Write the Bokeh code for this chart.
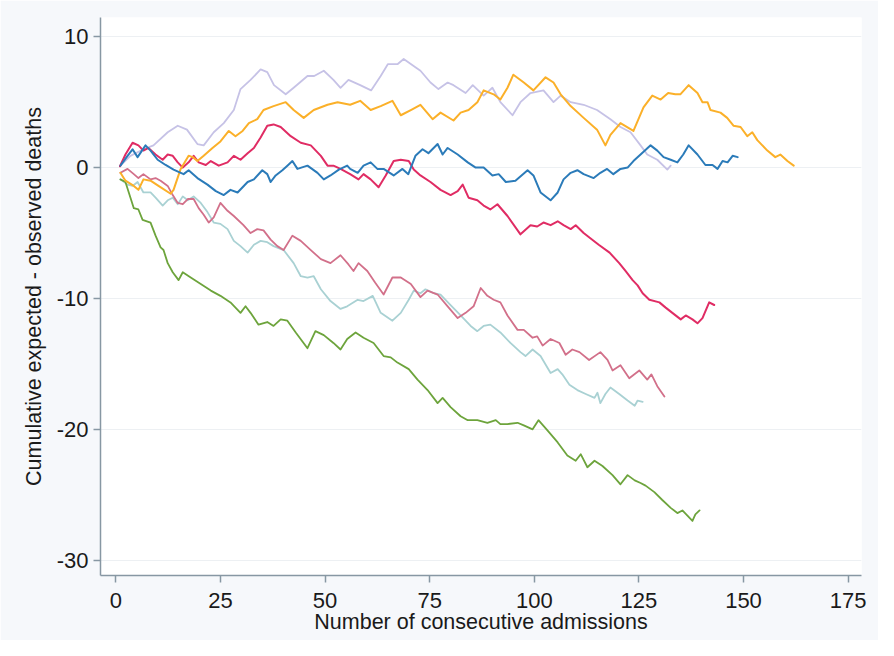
from bokeh.plotting import figure
from bokeh.models import Range1d, FixedTicker
from bokeh.embed import file_html
from bokeh.resources import INLINE

# Tick values
x_ticks = [0, 25, 50, 75, 100, 125, 150, 175]
y_ticks = [-30, -20, -10, 0, 10]

# Series: (consecutive admission, cumulative expected - observed deaths)
lavender = [(1.1,0.15),(3.5,0.9),(6.6,1.4),(9,1.7),(12.4,2.7),(14.8,3.2),(17,2.9),(19.5,1.8),(21,1.7),(23.4,2.7),
            (25.8,3.4),(28.2,4.4),(29.8,6.0),(32.2,6.7),(34.6,7.5),(36.2,7.3),(37.8,6.3),(40.6,5.6),(42.5,6.1),(45.8,7.0),
            (47.4,7.0),(49.7,7.4),(52,6.7),(53.7,6.1),(55.6,6.7),(58.4,6.3),(61,5.9),(63.3,7.0),(65,7.9),(67.3,7.9),
            (68.8,8.3),(71,7.8),(72.8,7.4),(75.2,6.5),(77.1,6.0),(79.3,6.5),(80.7,6.3),(83.6,5.7),(85.3,6.3),(87.9,5.5),
            (90,6.1),(91.9,5.0),(94.8,4.0),(96.7,5.0),(99.1,5.7),(102.2,5.9),(104.6,5.0),(106.3,5.5),(108.7,5.0),(111.8,4.8),
            (115,4.4),(118.2,3.7),(120.6,3.1),(123,2.7),(125.4,1.7),(127,1.0),(129.4,0.6),(131.8,-0.15),(132.6,0.15)]

orange = [(1.1,-0.4),(2.3,-1.0),(4.3,-1.4),(5.4,-1.7),(6.6,-0.9),(8.3,-1.0),(10.2,-1.4),(13.1,-2.0),(13.8,-1.7),(15.5,-0.1),
          (17.4,0.9),(18.4,0.8),(19.5,0.5),(21,0.9),(23.1,1.5),(25,2.0),(27,2.8),(28.6,2.4),(30.3,2.8),(31.8,3.4),
          (33.8,3.7),(35.3,4.4),(37.7,4.7),(40.6,5.0),(42.5,4.4),(44.9,3.8),(47.3,4.4),(50.6,4.8),(53,5.0),(56,4.8),
          (58.4,5.1),(60.9,4.4),(63.3,4.7),(66.1,5.1),(68.1,4.0),(70.5,4.4),(72.8,4.8),(75.7,3.7),(77.6,4.2),(80.7,3.6),
          (82.4,4.2),(84.3,4.4),(86.4,5.0),(87.9,5.9),(90.3,5.6),(91.9,5.2),(93.6,6.1),(95,7.1),(97.5,6.5),(99.8,5.9),
          (102.7,6.9),(104.6,6.5),(106.3,5.6),(108.7,4.7),(111.8,3.8),(115,2.9),(117,1.7),(118.2,2.5),(120.6,3.4),(123.7,2.8),
          (126.1,4.6),(128.2,5.5),(130.2,5.2),(132,5.7),(133.7,5.6),(134.9,5.6),(136.9,6.3),(139,5.7),(140.2,5.0),(141.4,5.0),
          (142.1,4.4),(144.5,4.2),(146.1,3.8),(147.6,3.2),(149.3,3.1),(150.9,2.4),(152.1,2.7),(153.3,2.1),(155.7,1.3),(157.6,0.8),
          (158.8,1.0),(160.5,0.5),(162,0.15)]

blue = [(1.1,0.15),(2.8,0.9),(4,1.4),(5.2,0.8),(7.1,1.7),(8.3,1.3),(10,0.6),(11.9,0.2),(13.8,-0.15),(16.2,-0.5),
        (17.4,-0.2),(19.5,-0.8),(21.9,-1.3),(23.9,-1.8),(25.8,-2.1),(27.4,-1.7),(29.1,-1.9),(31.5,-1.1),(33,-0.9),(35,-0.2),
        (36.2,-0.5),(37,-1.1),(38.2,-0.6),(39.8,-0.2),(41,0.15),(42.2,0.5),(43.4,-0.1),(45.8,0.15),(48.2,-0.4),(49.7,-0.9),
        (51.3,-0.6),(53.3,-0.15),(55.3,0.15),(56,-0.1),(57.8,-0.4),(59.2,0.15),(60.9,0.4),(62.5,-0.1),(64,-0.1),(66.4,-0.6),
        (68.5,-0.1),(69.9,-0.5),(71.6,0.9),(73.3,1.4),(74.7,1.1),(76.9,1.8),(78.1,1.0),(79.3,1.5),(81.7,1.0),(84.1,0.4),
        (86,0.0),(87.9,0.0),(90,-0.6),(91.5,-0.5),(93.2,-1.1),(95.5,-1.0),(98.4,-0.2),(99.8,-0.6),(101.5,-1.9),(103.9,-2.5),
        (105.6,-1.9),(107,-0.9),(108.7,-0.4),(110.3,-0.2),(111.8,-0.5),(114.2,-0.8),(115.8,-0.4),(117.4,-0.1),(118.9,-0.5),(120.6,-0.1),
        (122.3,0.0),(123.7,0.5),(125.4,1.0),(127.8,1.7),(129.4,1.3),(130.9,0.8),(132.6,0.6),(134.2,0.4),(135.6,1.0),(136.9,1.7),
        (139,1.0),(140.9,0.2),(142.6,0.2),(143.8,-0.1),(145,0.5),(146.2,0.4),(147.4,0.9),(148.6,0.8)]

crimson = [(1,0.1),(2.3,1.0),(4,1.9),(5.4,1.7),(6.6,1.3),(7.8,1.5),(9.5,1.0),(11.2,0.6),(12.4,1.0),(13.6,0.9),
           (14.8,0.4),(16,0.0),(17.4,0.4),(18.6,0.9),(19.8,0.4),(21.5,0.2),(22.7,0.5),(24.6,0.15),(26.7,0.4),(28.2,0.9),
           (29.8,0.6),(31.5,1.1),(33,1.5),(34.6,2.3),(36.2,3.2),(37.7,3.3),(39.4,3.1),(41.8,2.4),(44.2,1.9),(46.6,1.7),
           (49,0.9),(50.6,0.15),(52,0.15),(53.7,-0.1),(56,-0.5),(58,-0.9),(59.2,-0.5),(60.9,-0.9),(62.8,-1.5),(64.5,-0.6),
           (66.4,0.5),(68.1,0.6),(70,0.5),(71.2,-0.15),(72.8,-0.6),(75.2,-1.1),(77.6,-1.7),(80,-2.1),(81.7,-1.8),(82.9,-1.3),
           (84.3,-2.3),(86.4,-2.5),(87.9,-2.9),(89.5,-3.2),(91.2,-2.8),(93.6,-3.7),(96.7,-5.1),(99.1,-4.4),(100.7,-4.5),(102.2,-4.2),
           (103.9,-4.4),(105.6,-4.1),(107,-4.4),(108.7,-4.7),(109.9,-4.4),(111.8,-5.0),(113.4,-5.4),(115.4,-5.9),(118,-6.5),(120.3,-7.3),
           (121.8,-7.9),(123.5,-8.6),(124.7,-9.0),(125.9,-9.6),(127.5,-10.1),(129.9,-10.3),(131.4,-10.7),(133,-11.1),(135,-11.6),(136.2,-11.3),
           (137.8,-11.6),(139,-11.9),(140.2,-11.5),(141.8,-10.3),(143,-10.5)]

rose = [(1.1,-0.4),(2.8,-0.1),(4.3,-0.5),(5.4,-0.8),(6.6,-0.5),(8.3,-0.9),(9.5,-0.8),(10.7,-1.0),(12.4,-1.4),(13.6,-2.1),
        (14.8,-2.7),(16,-2.8),(17.2,-2.4),(18.6,-2.4),(19.8,-3.1),(21,-3.6),(22.2,-4.2),(23.4,-3.8),(25,-2.7),(26.7,-3.3),
        (28.2,-3.7),(30.5,-4.4),(32.2,-5.0),(33.8,-4.7),(35.3,-4.8),(37,-5.5),(38.6,-6.0),(40.1,-6.3),(42.2,-5.2),(44.2,-5.6),
        (46.6,-6.3),(49,-7.0),(51.3,-7.3),(53.7,-6.7),(55.6,-7.4),(56.8,-7.9),(58,-7.3),(60.1,-7.9),(62,-8.8),(64,-9.7),
        (66.1,-8.4),(68.1,-8.4),(70.5,-8.9),(72.8,-9.9),(74.5,-9.4),(76.9,-9.7),(79.3,-10.6),(81.7,-11.5),(83.6,-11.1),(85.5,-10.6),
        (87.2,-9.2),(88.8,-9.8),(90.3,-10.1),(91.9,-10.3),(93.6,-11.3),(96,-12.4),(97.5,-12.4),(99.6,-13.0),(100.7,-12.9),(102,-13.6),
        (103.9,-13.1),(106,-13.4),(107.5,-14.3),(109.1,-13.9),(110.8,-14.1),(113.1,-14.7),(115.8,-14.1),(117.5,-14.7),(118.7,-15.5),(120.6,-15.1),
        (122.7,-16.1),(125.1,-15.5),(127,-16.2),(128,-15.8),(129.4,-16.7),(131.1,-17.5)]

teal = [(1.1,-0.9),(2.8,-1.3),(4,-1.4),(5.2,-1.1),(6.6,-1.9),(8.3,-1.9),(9.5,-2.3),(11.2,-2.9),(12.4,-2.5),(13.6,-2.3),
        (14.8,-2.8),(16,-2.2),(17.2,-2.5),(18.6,-2.2),(20.3,-2.7),(21.9,-3.4),(23.4,-4.2),(25,-4.3),(26.7,-4.7),(28.2,-5.6),
        (29.8,-6.0),(31.5,-6.5),(33,-5.9),(34.6,-5.6),(36.2,-5.7),(37.7,-6.0),(40.1,-6.3),(42.5,-7.3),(44.2,-8.3),(45.8,-8.4),
        (47.3,-8.3),(49,-9.3),(51.3,-10.2),(53.7,-10.8),(55.3,-10.6),(57.8,-10.1),(59.2,-10.2),(61.4,-9.8),(63.3,-11.1),(66.1,-11.7),
        (68.1,-11.1),(70,-10.1),(71.2,-9.4),(72.8,-9.6),(74,-9.3),(76,-9.6),(77.6,-9.7),(80,-10.5),(82.4,-11.3),(84.8,-12.1),
        (86.4,-12.5),(87.9,-12.1),(89.5,-12.0),(91.9,-12.6),(94.3,-13.4),(96.7,-14.1),(97.9,-14.4),(99.6,-13.9),(101.5,-14.4),(103.9,-15.7),
        (105.6,-15.4),(106.7,-15.8),(108.4,-16.6),(110.3,-17.0),(112.3,-17.3),(114.4,-17.6),(115.1,-17.2),(115.8,-18.0),(117,-17.3),(118.2,-16.8),
        (120.3,-17.3),(122.3,-17.8),(124,-18.2),(124.7,-17.8),(125.9,-17.9)]

green = [(1.1,-0.9),(2.3,-1.1),(3.5,-2.3),(4.3,-3.1),(5.4,-3.2),(6.4,-4.0),(8.3,-4.2),(9.5,-5.2),(10.7,-6.1),(11.4,-6.3),
         (12.4,-7.3),(13.6,-8.0),(15,-8.6),(16,-8.0),(17.9,-8.4),(20.3,-8.9),(22.7,-9.4),(25,-9.8),(27.4,-10.3),(29.8,-11.1),
         (31,-10.6),(32.2,-11.1),(34.1,-12.0),(36.2,-11.8),(37.7,-12.1),(39.4,-11.6),(41,-11.7),(43,-12.6),(45.8,-13.8),(47.7,-12.5),
         (49.7,-12.8),(52,-13.4),(53.7,-13.9),(55.3,-13.1),(57.3,-12.6),(59.2,-13.0),(61.6,-13.4),(64,-14.4),(65.7,-14.5),(67.3,-14.9),
         (70,-15.4),(72.1,-16.2),(74.5,-17.0),(76.9,-18.0),(78.1,-17.6),(80,-18.3),(82.4,-19.0),(84.1,-19.3),(86.4,-19.3),(88.8,-19.5),
         (90.8,-19.3),(91.9,-19.6),(93.6,-19.6),(96,-19.5),(97.5,-19.7),(99.6,-20.0),(101,-19.3),(103.2,-20.1),(105.6,-21.0),(107.9,-22.0),
         (109.9,-22.4),(111.1,-21.9),(112.7,-22.9),(114.4,-22.4),(116.3,-22.8),(118.7,-23.5),(120.6,-24.2),(122.3,-23.5),(124,-23.9),(125.4,-24.1),
         (126.6,-24.3),(128.7,-24.8),(130.6,-25.4),(132.6,-26.0),(134.2,-26.4),(135.4,-26.2),(137.8,-27.0),(138.5,-26.5),(139.5,-26.2)]

series = [
    (lavender, "#c6c2e6", 1.8),
    (teal, "#a9d1d3", 1.8),
    (rose, "#d2708a", 1.8),
    (green, "#6da43c", 1.8),
    (crimson, "#e02c64", 2.0),
    (orange, "#fbb029", 2.0),
    (blue, "#2b7bb9", 2.0),
]

FONT = "Liberation Sans"
p = figure(width=878, height=640, output_backend="svg", toolbar_location=None,
           x_range=Range1d(-3.66, 178.2), y_range=Range1d(-31.17, 11.47),
           min_border_left=100, min_border_right=17, min_border_top=17, min_border_bottom=65)

for data, color, w in series:
    xs = [d[0] for d in data]
    ys = [d[1] for d in data]
    p.line(xs, ys, line_color=color, line_width=w, line_join="round", line_cap="round")

p.background_fill_color = "white"
p.border_fill_color = "#f6f8fb"
p.outline_line_color = None

p.xaxis.ticker = FixedTicker(ticks=x_ticks)
p.yaxis.ticker = FixedTicker(ticks=y_ticks)
p.yaxis.major_label_overrides = {t: str(t) for t in y_ticks}
p.xgrid.grid_line_color = None
p.ygrid.ticker = FixedTicker(ticks=y_ticks)
p.ygrid.grid_line_color = "#edf0f3"
p.ygrid.grid_line_width = 1

for ax in (p.xaxis[0], p.yaxis[0]):
    ax.axis_line_color = "#8797a3"
    ax.axis_line_width = 1.5
    ax.major_tick_line_color = "#8797a3"
    ax.major_tick_line_width = 1.5
    ax.major_tick_out = 7
    ax.major_tick_in = 0
    ax.minor_tick_out = 0
    ax.minor_tick_in = 0
    ax.major_label_text_font = FONT
    ax.major_label_text_font_size = "22px"
    ax.major_label_text_color = "#1a1a1a"
    ax.axis_label_text_font = FONT
    ax.axis_label_text_font_size = "21.5px"
    ax.axis_label_text_font_style = "normal"
    ax.axis_label_text_color = "#1a1a1a"

p.xaxis.axis_label = "Number of consecutive admissions"
p.yaxis.axis_label = "Cumulative expected - observed deaths"
p.xaxis.major_label_standoff = 10
p.xaxis.axis_label_standoff = -1
p.yaxis.major_label_standoff = 5
p.yaxis.axis_label_standoff = 8
p.yaxis.major_label_orientation = "horizontal"

open("out.html", "w").write(file_html(p, INLINE))
